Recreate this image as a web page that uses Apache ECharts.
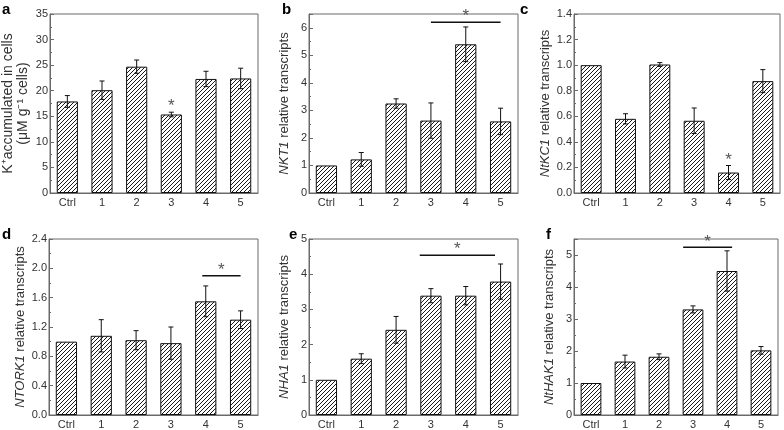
<!DOCTYPE html>
<html><head><meta charset="utf-8">
<script src="https://cdn.jsdelivr.net/npm/echarts@6/dist/echarts.min.js"></script>
<style>html,body{margin:0;padding:0;background:#fff}#c{width:784px;height:430px}</style>
</head><body><div id="c"></div>
<script>
const categories = ['Ctrl', '1', '2', '3', '4', '5'];
const aVals = [17.9, 20.1, 24.7, 15.35, 22.3, 22.4];
const aErr  = [1.15, 1.8, 1.3, 0.45, 1.5, 2.0];
const bVals = [1.0, 1.22, 3.25, 2.63, 5.4, 2.6];
const bErr  = [0, 0.25, 0.17, 0.64, 0.63, 0.48];
const cVals = [1.0, 0.58, 1.005, 0.565, 0.16, 0.875];
const cErr  = [0, 0.04, 0.015, 0.1, 0.055, 0.09];
const dVals = [1.0, 1.08, 1.02, 0.98, 1.55, 1.3];
const dErr  = [0, 0.22, 0.13, 0.22, 0.21, 0.12];
const eVals = [1.0, 1.6, 2.42, 3.39, 3.39, 3.79];
const eErr  = [0, 0.14, 0.38, 0.2, 0.26, 0.5];
const fVals = [1.0, 1.67, 1.82, 3.3, 4.5, 2.02];
const fErr  = [0, 0.2, 0.09, 0.11, 0.63, 0.12];
// significance marks: [fromIndex, toIndex, value]; from === to means star only
const aSig = [[3, 3, 18.2]];
const bSig = [[3.0, 5.0, 6.2]];
const cSig = [[4, 4, 0.3]];
const dSig = [[3.9, 5.0, 1.9]];
const eSig = [[2.68, 4.84, 4.54]];
const fSig = [[2.71, 4.15, 5.24]];
const yMax = [35, 6.5, 1.4, 2.4, 5, 5.5];
const yInterval = [5, 1, 0.2, 0.4, 1, 1];
const yDecimals = [0, 0, 1, 1, 0, 0];
const letters = ['a', 'b', 'c', 'd', 'e', 'f'];
const yNames = [
  'K\u207Aaccumulated in cells\n(\u03BCM g\u207B\u00B9 cells)',
  '{i|NKT1} relative transcripts',
  '{i|NtKC1} relative transcripts',
  '{i|NTORK1} relative transcripts',
  '{i|NHA1} relative transcripts',
  '{i|NtHAK1} relative transcripts'
];

const panels = [
  {v: aVals, e: aErr, s: aSig}, {v: bVals, e: bErr, s: bSig}, {v: cVals, e: cErr, s: cSig},
  {v: dVals, e: dErr, s: dSig}, {v: eVals, e: eErr, s: eSig}, {v: fVals, e: fErr, s: fSig}
];
const grids = [
  {left: 49, top: 14, width: 209, height: 179},
  {left: 309, top: 14, width: 209, height: 179},
  {left: 574, top: 14, width: 206, height: 179},
  {left: 49, top: 239, width: 209, height: 178},
  {left: 309, top: 239, width: 209, height: 178},
  {left: 574, top: 239, width: 204, height: 178}
];
const letterPos = [[2, 2], [282, 2], [520, 2], [2, 227], [289, 227], [546, 227]];

// hatch pattern
const cv = document.createElement('canvas');
const P = 4;
cv.width = P; cv.height = P;
const ctx = cv.getContext('2d');
ctx.fillStyle = '#fff'; ctx.fillRect(0, 0, P, P);
ctx.strokeStyle = '#1a1a1a'; ctx.lineWidth = 1;
[[0, P, P, 0], [-P, P, P, -P], [0, 2 * P, 2 * P, 0]].forEach(l => {
  ctx.beginPath(); ctx.moveTo(l[0], l[1]); ctx.lineTo(l[2], l[3]); ctx.stroke();
});

const axisColor = '#6a6a6a';
const textColor = '#333';
const font = 'Liberation Sans, Arial, sans-serif';

function isTick(v, k) {
  const r = v / yInterval[k];
  return Math.abs(r - Math.round(r)) < 1e-6;
}

const option = {
  animation: false,
  backgroundColor: '#fff',
  textStyle: {fontFamily: font},
  title: letters.map((l, k) => ({
    text: l, left: letterPos[k][0], top: letterPos[k][1], padding: 0,
    textStyle: {fontSize: 15, fontWeight: 'bold', color: '#000', fontFamily: font}
  })),
  grid: grids.map(g => Object.assign({show: true, borderColor: axisColor, borderWidth: 1, backgroundColor: 'transparent'}, g)),
  xAxis: grids.map((g, k) => ({
    type: 'category', gridIndex: k, data: categories,
    axisLine: {lineStyle: {color: axisColor, width: 1}},
    axisTick: {inside: true, length: 2, lineStyle: {color: axisColor}},
    axisLabel: {color: textColor, fontSize: 11, margin: 4, fontFamily: font}
  })),
  yAxis: grids.map((g, k) => ({
    type: 'value', gridIndex: k, min: 0, max: yMax[k], interval: yInterval[k],
    name: yNames[k], nameLocation: 'middle', nameGap: k === 0 ? 19 : 17,
    nameTextStyle: {
      color: textColor, fontSize: k === 0 ? 14 : 13, fontFamily: font, lineHeight: 15,
      rich: {i: {fontStyle: 'italic', fontSize: 13, color: textColor, fontFamily: font}}
    },
    axisLine: {show: true, lineStyle: {color: axisColor, width: 1}},
    axisTick: {show: true, inside: true, length: 4, lineStyle: {color: axisColor}},
    minorTick: {show: true, splitNumber: 2, length: 2, lineStyle: {color: axisColor}},
    splitLine: {show: false},
    axisLabel: {
      color: textColor, fontSize: 11, margin: 2, fontFamily: font,
      showMaxLabel: true,
      formatter: v => (isTick(v, k) ? v.toFixed(yDecimals[k]) : '')
    }
  })),
  series: []
};

panels.forEach((p, k) => {
  option.series.push({
    type: 'bar', xAxisIndex: k, yAxisIndex: k, data: p.v, barWidth: '61%',
    itemStyle: {color: {image: cv, repeat: 'repeat'}, borderColor: '#111', borderWidth: 1}
  });
  option.series.push({
    type: 'custom', xAxisIndex: k, yAxisIndex: k, z: 5,
    data: p.v.map((v, i) => [i, v, p.e[i]]),
    renderItem: function (params, api) {
      const i = api.value(0), v = api.value(1), e = api.value(2);
      if (!e) return null;
      const t = api.coord([i, v + e]);
      const b = api.coord([i, v - e]);
      const h = 2.5;
      const st = {stroke: '#111', lineWidth: 1};
      return {type: 'group', children: [
        {type: 'line', shape: {x1: t[0], y1: t[1], x2: b[0], y2: b[1]}, style: st},
        {type: 'line', shape: {x1: t[0] - h, y1: t[1], x2: t[0] + h, y2: t[1]}, style: st},
        {type: 'line', shape: {x1: b[0] - h, y1: b[1], x2: b[0] + h, y2: b[1]}, style: st}
      ]};
    }
  });
  option.series.push({
    type: 'custom', xAxisIndex: k, yAxisIndex: k, z: 6,
    data: p.s.map(s => [Math.floor(s[0]), s[2]]),
    renderItem: function (params, api) {
      const s = p.s[params.dataIndex];
      const bw = api.size([1, 0])[0];
      const c0 = api.coord([Math.floor(s[0]), s[2]]);
      const c1 = api.coord([Math.floor(s[1]), s[2]]);
      const x0 = c0[0] + (s[0] - Math.floor(s[0])) * bw;
      const x1 = c1[0] + (s[1] - Math.floor(s[1])) * bw;
      const y = c0[1];
      const children = [];
      if (s[1] > s[0]) {
        children.push({type: 'line', shape: {x1: x0, y1: y, x2: x1, y2: y}, style: {stroke: '#111', lineWidth: 1.5}});
        children.push({type: 'text', x: (x0 + x1) / 2, y: y + 3, style: {text: '*', fill: '#555', fontSize: 17, fontFamily: font, align: 'center', verticalAlign: 'bottom'}});
      } else {
        children.push({type: 'text', x: x0, y: y + 6, style: {text: '*', fill: '#555', fontSize: 17, fontFamily: font, align: 'center', verticalAlign: 'middle'}});
      }
      return {type: 'group', children: children};
    }
  });
});

const chart = echarts.init(document.getElementById('c'), null, {renderer: 'canvas'});
chart.setOption(option);
</script>
</body></html>
